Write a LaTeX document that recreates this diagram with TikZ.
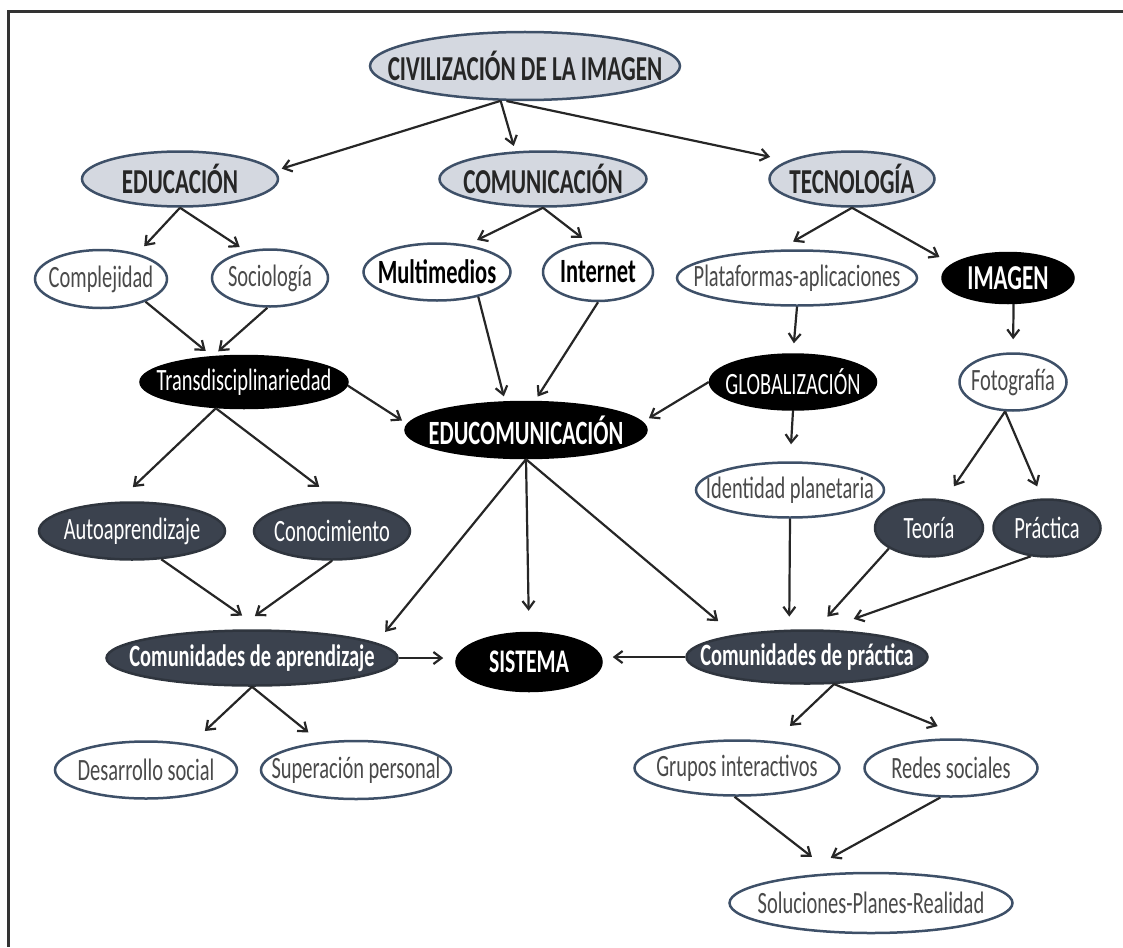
\documentclass[tikz,border=0pt]{standalone}
\usepackage{fontspec}
\setmainfont{Carlito}[FakeStretch=0.66]
\usepackage{xcolor}
\usetikzlibrary{shapes.geometric, arrows.meta}
\definecolor{borde}{HTML}{3E5068}
\definecolor{relleno}{HTML}{D4D8E0}
\definecolor{oscuro}{HTML}{3B424E}
\definecolor{letra}{HTML}{4A4A4A}
\tikzset{
  base/.style={ellipse, line width=2.5pt, inner xsep=-250pt, inner ysep=-50pt},
  tam/.style 2 args={minimum width=#1pt, minimum height=#2pt},
  tema/.style={base, draw=borde, fill=relleno, text=black!85,
    font=\fontsize{35}{37}\selectfont\bfseries},
  hoja/.style={base, draw=borde, fill=white, text=letra,
    font=\fontsize{31}{33}\selectfont},
  clave/.style={base, draw=black, fill=black, text=white,
    font=\fontsize{31}{33}\selectfont},
  grupo/.style={base, draw=oscuro!80!black, fill=oscuro, text=white,
    font=\fontsize{31}{33}\selectfont},
  negrita/.style={font=\fontsize{#1}{#1}\selectfont\bfseries}
}

\begin{document}
\begin{tikzpicture}[x=1pt, y=-1pt]
\useasboundingbox (0,0) rectangle (1123,947);
\draw [line width=3pt, black!80] (1123,12) -- (8,12) -- (8,947);

    \node[tema, tam={310}{68}] (civ) at (525,66) {CIVILIZACIÓN DE LA IMAGEN};
    \node[tema, tam={196}{55}] (edu) at (180,179) {EDUCACIÓN};
    \node[tema, tam={207}{55}] (com) at (543,179) {COMUNICACIÓN};
    \node[tema, tam={165}{55}] (tec) at (852,179) {TECNOLOGÍA};

    \node[hoja, tam={132}{58}] (comp) at (101,279) {Complejidad};
    \node[hoja, tam={116}{57}] (soc) at (270,278) {Sociología};
    \node[hoja, tam={147}{57}, text=black, negrita=34] (multi) at (437,272) {Multimedios};
    \node[hoja, tam={110}{58}, text=black, negrita=34] (inter) at (598,272) {Internet};
    \node[hoja, tam={240}{55}] (plat) at (797,278) {Plataformas-aplicaciones};
    \node[clave, tam={131}{50}, negrita=35] (imagen) at (1008,278) {IMAGEN};

    \node[clave, tam={207}{52}] (trans) at (244,382) {Transdisciplinariedad};
    \node[clave, tam={241}{56}, negrita=34] (educom) at (526,430) {EDUCOMUNICACIÓN};
    \node[clave, tam={166}{55}] (glob) at (793,382) {GLOBALIZACIÓN};
    \node[hoja, tam={107}{57}] (foto) at (1013,382) {Fotografía};
    \node[hoja, tam={188}{55}] (ident) at (790,490) {Identidad planetaria};

    \node[grupo, tam={186}{57}] (auto) at (132,531) {Autoaprendizaje};
    \node[grupo, tam={156}{57}] (cono) at (332,531) {Conocimiento};
    \node[grupo, tam={108}{57}] (teoria) at (929,528) {Teoría};
    \node[grupo, tam={107}{57}] (practica) at (1047,528) {Práctica};

    \node[grupo, tam={291}{55}, negrita=31] (capr) at (252,658) {Comunidades de aprendizaje};
    \node[clave, tam={145}{58}, negrita=33] (sis) at (529,662) {SISTEMA};
    \node[grupo, tam={241}{53}, negrita=31] (cpra) at (807,657) {Comunidades de práctica};

    \node[hoja, tam={182}{57}] (des) at (146,770) {Desarrollo social};
    \node[hoja, tam={190}{58}] (sup) at (356,770) {Superación personal};
    \node[hoja, tam={205}{55}] (grupos) at (737,768) {Grupos interactivos};
    \node[hoja, tam={173}{57}] (redes) at (951,768) {Redes sociales};
    \node[hoja, tam={283}{60}] (sol) at (871,903) {Soluciones-Planes-Realidad};

\begin{scope}[>={Straight Barb[length=8pt,width=12pt]},
              every edge/.style={draw=black!85, line width=2.2pt}]
    \path [->] (civ.235) edge[shorten >=7pt] (edu.5);
    \path [->] (civ.235) edge[shorten >=5.5pt] (com.135);
    \path [->] (civ.242) edge[shorten >=18pt] (tec.164);
    \path [->] (edu.south) edge[shorten >=10pt] (comp.35);
    \path [->] (edu.south) edge[shorten >=7pt] (soc.132);
    \path [->] (com.south) edge[shorten >=11pt] (multi.42);
    \path [->] (com.south) edge[shorten >=7pt] (inter.109);
    \path [->] (tec.south) edge[shorten >=16pt] (plat.122);
    \path [->] (tec.south) edge[shorten >=14pt] (imagen.166);
    \path [->] (comp.333) edge[shorten >=8pt] (trans.141);
    \path [->] (soc.265) edge[shorten >=7pt] (trans.140);
    \path [->] (multi.329) edge[shorten >=5pt] (educom.126);
    \path [->] (inter.south) edge[shorten >=5pt] (educom.73);
    \path [->] (plat.south) edge[shorten >=10pt] (glob.north);
    \path [->] (imagen.282) edge[shorten >=13pt] (foto.north);
    \path [->] (trans.358) edge[shorten >=6pt] (educom.177);
    \path [->] (glob.west) edge[shorten >=7pt] (educom.4);
    \path [->] (glob.south) edge[shorten >=17pt] (ident.north);
    \path [->] (foto.255) edge[shorten >=16pt] (teoria.61);
    \path [->] (foto.255) edge[shorten >=13pt] (practica.99);
    \path [->] (trans.223) edge[shorten >=21pt] (auto.116);
    \path [->] (trans.223) edge[shorten >=24pt] (cono.78);
    \path [->] (educom.south) edge[shorten >=14pt] (capr.7);
    \path [->] (educom.south) edge[shorten >=21pt] (sis.north);
    \path [->] (educom.south) edge[shorten >=21pt] (cpra.163);
    \path [->] (ident.south) edge[shorten >=13pt] (cpra.123);
    \path [->] (teoria.207) edge[shorten >=17pt] (cpra.72);
    \path [->] (practica.240) edge[shorten >=32pt] (cpra.59);
    \path [->] (auto.316) edge[shorten >=24pt] (capr.71);
    \path [->] (cono.south) edge[shorten >=23pt] (capr.119);
    \path [->] (capr.east) edge[shorten >=12pt] (capr.east -| sis.west);
    \path [->] (cpra.west) edge[shorten >=10pt] (cpra.west -| sis.east);
    \path [->] (capr.south) edge[shorten >=19pt] (des.30);
    \path [->] (capr.south) edge[shorten >=15pt] (sup.142);
    \path [->] (cpra.315) edge[shorten >=22pt] (grupos.36);
    \path [->] (cpra.315) edge[shorten >=34pt] (redes.58);
    \path [->] (grupos.265) edge[shorten >=26pt] (sol.142);
    \path [->] (redes.250) edge[shorten >=38pt] (sol.160);
\end{scope}
\end{tikzpicture}
\end{document}
